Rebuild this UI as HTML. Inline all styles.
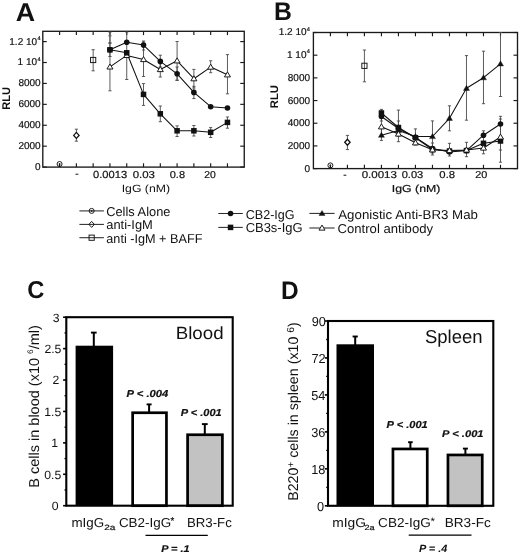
<!DOCTYPE html><html><head><meta charset="utf-8"><title>Figure</title><style>html,body{margin:0;padding:0;background:#fff;overflow:hidden;}svg{display:block;filter:blur(0.3px);text-rendering:geometricPrecision;font-family:"Liberation Sans", sans-serif;}text.s{stroke:#111;stroke-width:0.2px;paint-order:stroke;}</style></head><body>
<svg width="520" height="554" viewBox="0 0 520 554" fill="#111">
<rect width="520" height="554" fill="#fff"/>
<rect x="42.80" y="31.30" width="201.45" height="135.80" fill="none" stroke="#1a1a1a" stroke-width="1.35"/>
<line x1="59.59" y1="31.30" x2="59.59" y2="35.10" stroke="#1a1a1a" stroke-width="1.15"/>
<line x1="59.59" y1="167.10" x2="59.59" y2="163.30" stroke="#1a1a1a" stroke-width="1.15"/>
<line x1="76.38" y1="31.30" x2="76.38" y2="35.10" stroke="#1a1a1a" stroke-width="1.15"/>
<line x1="76.38" y1="167.10" x2="76.38" y2="163.30" stroke="#1a1a1a" stroke-width="1.15"/>
<line x1="93.16" y1="31.30" x2="93.16" y2="35.10" stroke="#1a1a1a" stroke-width="1.15"/>
<line x1="93.16" y1="167.10" x2="93.16" y2="163.30" stroke="#1a1a1a" stroke-width="1.15"/>
<line x1="109.95" y1="31.30" x2="109.95" y2="35.10" stroke="#1a1a1a" stroke-width="1.15"/>
<line x1="109.95" y1="167.10" x2="109.95" y2="163.30" stroke="#1a1a1a" stroke-width="1.15"/>
<line x1="126.74" y1="31.30" x2="126.74" y2="35.10" stroke="#1a1a1a" stroke-width="1.15"/>
<line x1="126.74" y1="167.10" x2="126.74" y2="163.30" stroke="#1a1a1a" stroke-width="1.15"/>
<line x1="143.52" y1="31.30" x2="143.52" y2="35.10" stroke="#1a1a1a" stroke-width="1.15"/>
<line x1="143.52" y1="167.10" x2="143.52" y2="163.30" stroke="#1a1a1a" stroke-width="1.15"/>
<line x1="160.31" y1="31.30" x2="160.31" y2="35.10" stroke="#1a1a1a" stroke-width="1.15"/>
<line x1="160.31" y1="167.10" x2="160.31" y2="163.30" stroke="#1a1a1a" stroke-width="1.15"/>
<line x1="177.10" y1="31.30" x2="177.10" y2="35.10" stroke="#1a1a1a" stroke-width="1.15"/>
<line x1="177.10" y1="167.10" x2="177.10" y2="163.30" stroke="#1a1a1a" stroke-width="1.15"/>
<line x1="193.89" y1="31.30" x2="193.89" y2="35.10" stroke="#1a1a1a" stroke-width="1.15"/>
<line x1="193.89" y1="167.10" x2="193.89" y2="163.30" stroke="#1a1a1a" stroke-width="1.15"/>
<line x1="210.67" y1="31.30" x2="210.67" y2="35.10" stroke="#1a1a1a" stroke-width="1.15"/>
<line x1="210.67" y1="167.10" x2="210.67" y2="163.30" stroke="#1a1a1a" stroke-width="1.15"/>
<line x1="227.46" y1="31.30" x2="227.46" y2="35.10" stroke="#1a1a1a" stroke-width="1.15"/>
<line x1="227.46" y1="167.10" x2="227.46" y2="163.30" stroke="#1a1a1a" stroke-width="1.15"/>
<line x1="42.80" y1="167.10" x2="46.80" y2="167.10" stroke="#1a1a1a" stroke-width="1.15"/>
<line x1="244.25" y1="167.10" x2="240.25" y2="167.10" stroke="#1a1a1a" stroke-width="1.15"/>
<line x1="42.80" y1="146.18" x2="46.80" y2="146.18" stroke="#1a1a1a" stroke-width="1.15"/>
<line x1="244.25" y1="146.18" x2="240.25" y2="146.18" stroke="#1a1a1a" stroke-width="1.15"/>
<line x1="42.80" y1="125.27" x2="46.80" y2="125.27" stroke="#1a1a1a" stroke-width="1.15"/>
<line x1="244.25" y1="125.27" x2="240.25" y2="125.27" stroke="#1a1a1a" stroke-width="1.15"/>
<line x1="42.80" y1="104.35" x2="46.80" y2="104.35" stroke="#1a1a1a" stroke-width="1.15"/>
<line x1="244.25" y1="104.35" x2="240.25" y2="104.35" stroke="#1a1a1a" stroke-width="1.15"/>
<line x1="42.80" y1="83.43" x2="46.80" y2="83.43" stroke="#1a1a1a" stroke-width="1.15"/>
<line x1="244.25" y1="83.43" x2="240.25" y2="83.43" stroke="#1a1a1a" stroke-width="1.15"/>
<line x1="42.80" y1="62.52" x2="46.80" y2="62.52" stroke="#1a1a1a" stroke-width="1.15"/>
<line x1="244.25" y1="62.52" x2="240.25" y2="62.52" stroke="#1a1a1a" stroke-width="1.15"/>
<line x1="42.80" y1="41.60" x2="46.80" y2="41.60" stroke="#1a1a1a" stroke-width="1.15"/>
<line x1="244.25" y1="41.60" x2="240.25" y2="41.60" stroke="#1a1a1a" stroke-width="1.15"/>
<line x1="76.38" y1="129.20" x2="76.38" y2="141.20" stroke="#4a4a4a" stroke-width="0.9"/>
<line x1="74.78" y1="129.20" x2="77.97" y2="129.20" stroke="#4a4a4a" stroke-width="0.9"/>
<line x1="74.78" y1="141.20" x2="77.97" y2="141.20" stroke="#4a4a4a" stroke-width="0.9"/>
<line x1="93.16" y1="49.70" x2="93.16" y2="70.80" stroke="#4a4a4a" stroke-width="0.9"/>
<line x1="91.56" y1="49.70" x2="94.76" y2="49.70" stroke="#4a4a4a" stroke-width="0.9"/>
<line x1="91.56" y1="70.80" x2="94.76" y2="70.80" stroke="#4a4a4a" stroke-width="0.9"/>
<line x1="109.95" y1="32.00" x2="109.95" y2="90.80" stroke="#4a4a4a" stroke-width="0.9"/>
<line x1="108.35" y1="32.00" x2="111.55" y2="32.00" stroke="#4a4a4a" stroke-width="0.9"/>
<line x1="108.35" y1="90.80" x2="111.55" y2="90.80" stroke="#4a4a4a" stroke-width="0.9"/>
<line x1="109.95" y1="35.80" x2="109.95" y2="43.00" stroke="#4a4a4a" stroke-width="0.9"/>
<line x1="108.35" y1="35.80" x2="111.55" y2="35.80" stroke="#4a4a4a" stroke-width="0.9"/>
<line x1="108.35" y1="43.00" x2="111.55" y2="43.00" stroke="#4a4a4a" stroke-width="0.9"/>
<line x1="109.95" y1="43.00" x2="109.95" y2="56.50" stroke="#4a4a4a" stroke-width="0.9"/>
<line x1="108.35" y1="43.00" x2="111.55" y2="43.00" stroke="#4a4a4a" stroke-width="0.9"/>
<line x1="108.35" y1="56.50" x2="111.55" y2="56.50" stroke="#4a4a4a" stroke-width="0.9"/>
<line x1="126.74" y1="32.00" x2="126.74" y2="79.50" stroke="#4a4a4a" stroke-width="0.9"/>
<line x1="125.14" y1="32.00" x2="128.34" y2="32.00" stroke="#4a4a4a" stroke-width="0.9"/>
<line x1="125.14" y1="79.50" x2="128.34" y2="79.50" stroke="#4a4a4a" stroke-width="0.9"/>
<line x1="143.52" y1="41.00" x2="143.52" y2="50.00" stroke="#4a4a4a" stroke-width="0.9"/>
<line x1="141.92" y1="41.00" x2="145.12" y2="41.00" stroke="#4a4a4a" stroke-width="0.9"/>
<line x1="141.92" y1="50.00" x2="145.12" y2="50.00" stroke="#4a4a4a" stroke-width="0.9"/>
<line x1="143.52" y1="42.00" x2="143.52" y2="76.50" stroke="#4a4a4a" stroke-width="0.9"/>
<line x1="141.92" y1="42.00" x2="145.12" y2="42.00" stroke="#4a4a4a" stroke-width="0.9"/>
<line x1="141.92" y1="76.50" x2="145.12" y2="76.50" stroke="#4a4a4a" stroke-width="0.9"/>
<line x1="143.52" y1="83.60" x2="143.52" y2="105.40" stroke="#4a4a4a" stroke-width="0.9"/>
<line x1="141.92" y1="83.60" x2="145.12" y2="83.60" stroke="#4a4a4a" stroke-width="0.9"/>
<line x1="141.92" y1="105.40" x2="145.12" y2="105.40" stroke="#4a4a4a" stroke-width="0.9"/>
<line x1="160.31" y1="55.20" x2="160.31" y2="67.00" stroke="#4a4a4a" stroke-width="0.9"/>
<line x1="158.71" y1="55.20" x2="161.91" y2="55.20" stroke="#4a4a4a" stroke-width="0.9"/>
<line x1="158.71" y1="67.00" x2="161.91" y2="67.00" stroke="#4a4a4a" stroke-width="0.9"/>
<line x1="160.31" y1="62.00" x2="160.31" y2="77.00" stroke="#4a4a4a" stroke-width="0.9"/>
<line x1="158.71" y1="62.00" x2="161.91" y2="62.00" stroke="#4a4a4a" stroke-width="0.9"/>
<line x1="158.71" y1="77.00" x2="161.91" y2="77.00" stroke="#4a4a4a" stroke-width="0.9"/>
<line x1="160.31" y1="106.00" x2="160.31" y2="121.70" stroke="#4a4a4a" stroke-width="0.9"/>
<line x1="158.71" y1="106.00" x2="161.91" y2="106.00" stroke="#4a4a4a" stroke-width="0.9"/>
<line x1="158.71" y1="121.70" x2="161.91" y2="121.70" stroke="#4a4a4a" stroke-width="0.9"/>
<line x1="177.10" y1="41.50" x2="177.10" y2="80.20" stroke="#4a4a4a" stroke-width="0.9"/>
<line x1="175.50" y1="41.50" x2="178.70" y2="41.50" stroke="#4a4a4a" stroke-width="0.9"/>
<line x1="175.50" y1="80.20" x2="178.70" y2="80.20" stroke="#4a4a4a" stroke-width="0.9"/>
<line x1="177.10" y1="67.00" x2="177.10" y2="80.40" stroke="#4a4a4a" stroke-width="0.9"/>
<line x1="175.50" y1="67.00" x2="178.70" y2="67.00" stroke="#4a4a4a" stroke-width="0.9"/>
<line x1="175.50" y1="80.40" x2="178.70" y2="80.40" stroke="#4a4a4a" stroke-width="0.9"/>
<line x1="177.10" y1="125.90" x2="177.10" y2="136.50" stroke="#4a4a4a" stroke-width="0.9"/>
<line x1="175.50" y1="125.90" x2="178.70" y2="125.90" stroke="#4a4a4a" stroke-width="0.9"/>
<line x1="175.50" y1="136.50" x2="178.70" y2="136.50" stroke="#4a4a4a" stroke-width="0.9"/>
<line x1="193.89" y1="69.40" x2="193.89" y2="88.00" stroke="#4a4a4a" stroke-width="0.9"/>
<line x1="192.29" y1="69.40" x2="195.49" y2="69.40" stroke="#4a4a4a" stroke-width="0.9"/>
<line x1="192.29" y1="88.00" x2="195.49" y2="88.00" stroke="#4a4a4a" stroke-width="0.9"/>
<line x1="193.89" y1="86.30" x2="193.89" y2="98.60" stroke="#4a4a4a" stroke-width="0.9"/>
<line x1="192.29" y1="86.30" x2="195.49" y2="86.30" stroke="#4a4a4a" stroke-width="0.9"/>
<line x1="192.29" y1="98.60" x2="195.49" y2="98.60" stroke="#4a4a4a" stroke-width="0.9"/>
<line x1="193.89" y1="125.50" x2="193.89" y2="136.00" stroke="#4a4a4a" stroke-width="0.9"/>
<line x1="192.29" y1="125.50" x2="195.49" y2="125.50" stroke="#4a4a4a" stroke-width="0.9"/>
<line x1="192.29" y1="136.00" x2="195.49" y2="136.00" stroke="#4a4a4a" stroke-width="0.9"/>
<line x1="210.67" y1="60.80" x2="210.67" y2="72.70" stroke="#4a4a4a" stroke-width="0.9"/>
<line x1="209.07" y1="60.80" x2="212.27" y2="60.80" stroke="#4a4a4a" stroke-width="0.9"/>
<line x1="209.07" y1="72.70" x2="212.27" y2="72.70" stroke="#4a4a4a" stroke-width="0.9"/>
<line x1="210.67" y1="127.60" x2="210.67" y2="137.50" stroke="#4a4a4a" stroke-width="0.9"/>
<line x1="209.07" y1="127.60" x2="212.27" y2="127.60" stroke="#4a4a4a" stroke-width="0.9"/>
<line x1="209.07" y1="137.50" x2="212.27" y2="137.50" stroke="#4a4a4a" stroke-width="0.9"/>
<line x1="227.46" y1="54.60" x2="227.46" y2="93.80" stroke="#4a4a4a" stroke-width="0.9"/>
<line x1="225.86" y1="54.60" x2="229.06" y2="54.60" stroke="#4a4a4a" stroke-width="0.9"/>
<line x1="225.86" y1="93.80" x2="229.06" y2="93.80" stroke="#4a4a4a" stroke-width="0.9"/>
<line x1="227.46" y1="117.00" x2="227.46" y2="128.20" stroke="#4a4a4a" stroke-width="0.9"/>
<line x1="225.86" y1="117.00" x2="229.06" y2="117.00" stroke="#4a4a4a" stroke-width="0.9"/>
<line x1="225.86" y1="128.20" x2="229.06" y2="128.20" stroke="#4a4a4a" stroke-width="0.9"/>
<polyline points="109.95,66.90 126.74,55.40 143.52,59.50 160.31,69.50 177.10,60.80 193.89,78.70 210.67,67.10 227.46,74.80" fill="none" stroke="#111" stroke-width="1.05" stroke-linejoin="round"/>
<polyline points="109.95,49.80 126.74,42.30 143.52,45.10 160.31,61.40 177.10,73.80 193.89,92.40 210.67,106.70 227.46,108.00" fill="none" stroke="#111" stroke-width="1.05" stroke-linejoin="round"/>
<polyline points="109.95,49.80 126.74,52.80 143.52,94.40 160.31,113.80 177.10,130.80 193.89,130.80 210.67,132.30 227.46,122.40" fill="none" stroke="#111" stroke-width="1.05" stroke-linejoin="round"/>
<polygon points="109.95,63.95 112.96,69.02 106.94,69.02" fill="#fff" stroke="#111" stroke-width="0.95"/>
<polygon points="126.74,52.45 129.75,57.52 123.73,57.52" fill="#fff" stroke="#111" stroke-width="0.95"/>
<polygon points="143.52,56.55 146.53,61.62 140.52,61.62" fill="#fff" stroke="#111" stroke-width="0.95"/>
<polygon points="160.31,66.55 163.32,71.62 157.30,71.62" fill="#fff" stroke="#111" stroke-width="0.95"/>
<polygon points="177.10,57.85 180.11,62.92 174.09,62.92" fill="#fff" stroke="#111" stroke-width="0.95"/>
<polygon points="193.89,75.75 196.90,80.82 190.88,80.82" fill="#fff" stroke="#111" stroke-width="0.95"/>
<polygon points="210.67,64.15 213.68,69.22 207.67,69.22" fill="#fff" stroke="#111" stroke-width="0.95"/>
<polygon points="227.46,71.85 230.47,76.92 224.45,76.92" fill="#fff" stroke="#111" stroke-width="0.95"/>
<circle cx="109.95" cy="49.80" r="2.80" fill="#111"/>
<circle cx="126.74" cy="42.30" r="2.80" fill="#111"/>
<circle cx="143.52" cy="45.10" r="2.80" fill="#111"/>
<circle cx="160.31" cy="61.40" r="2.80" fill="#111"/>
<circle cx="177.10" cy="73.80" r="2.80" fill="#111"/>
<circle cx="193.89" cy="92.40" r="2.80" fill="#111"/>
<circle cx="210.67" cy="106.70" r="2.80" fill="#111"/>
<circle cx="227.46" cy="108.00" r="2.80" fill="#111"/>
<rect x="107.20" y="47.05" width="5.50" height="5.50" fill="#111"/>
<rect x="123.99" y="50.05" width="5.50" height="5.50" fill="#111"/>
<rect x="140.77" y="91.65" width="5.50" height="5.50" fill="#111"/>
<rect x="157.56" y="111.05" width="5.50" height="5.50" fill="#111"/>
<rect x="174.35" y="128.05" width="5.50" height="5.50" fill="#111"/>
<rect x="191.14" y="128.05" width="5.50" height="5.50" fill="#111"/>
<rect x="207.92" y="129.55" width="5.50" height="5.50" fill="#111"/>
<rect x="224.71" y="119.65" width="5.50" height="5.50" fill="#111"/>
<circle cx="59.59" cy="164.00" r="2.50" fill="none" stroke="#111" stroke-width="0.95"/>
<circle cx="59.59" cy="164.00" r="0.85" fill="#111"/>
<polygon points="76.38,132.40 79.08,135.40 76.38,138.40 73.67,135.40" fill="#fff" stroke="#111" stroke-width="1.3"/>
<rect x="90.56" y="57.40" width="5.20" height="5.20" fill="none" stroke="#111" stroke-width="0.95"/>
<rect x="313.40" y="32.50" width="204.10" height="136.10" fill="none" stroke="#1a1a1a" stroke-width="1.35"/>
<line x1="330.41" y1="32.50" x2="330.41" y2="36.30" stroke="#1a1a1a" stroke-width="1.15"/>
<line x1="330.41" y1="168.60" x2="330.41" y2="164.80" stroke="#1a1a1a" stroke-width="1.15"/>
<line x1="347.42" y1="32.50" x2="347.42" y2="36.30" stroke="#1a1a1a" stroke-width="1.15"/>
<line x1="347.42" y1="168.60" x2="347.42" y2="164.80" stroke="#1a1a1a" stroke-width="1.15"/>
<line x1="364.42" y1="32.50" x2="364.42" y2="36.30" stroke="#1a1a1a" stroke-width="1.15"/>
<line x1="364.42" y1="168.60" x2="364.42" y2="164.80" stroke="#1a1a1a" stroke-width="1.15"/>
<line x1="381.43" y1="32.50" x2="381.43" y2="36.30" stroke="#1a1a1a" stroke-width="1.15"/>
<line x1="381.43" y1="168.60" x2="381.43" y2="164.80" stroke="#1a1a1a" stroke-width="1.15"/>
<line x1="398.44" y1="32.50" x2="398.44" y2="36.30" stroke="#1a1a1a" stroke-width="1.15"/>
<line x1="398.44" y1="168.60" x2="398.44" y2="164.80" stroke="#1a1a1a" stroke-width="1.15"/>
<line x1="415.45" y1="32.50" x2="415.45" y2="36.30" stroke="#1a1a1a" stroke-width="1.15"/>
<line x1="415.45" y1="168.60" x2="415.45" y2="164.80" stroke="#1a1a1a" stroke-width="1.15"/>
<line x1="432.46" y1="32.50" x2="432.46" y2="36.30" stroke="#1a1a1a" stroke-width="1.15"/>
<line x1="432.46" y1="168.60" x2="432.46" y2="164.80" stroke="#1a1a1a" stroke-width="1.15"/>
<line x1="449.47" y1="32.50" x2="449.47" y2="36.30" stroke="#1a1a1a" stroke-width="1.15"/>
<line x1="449.47" y1="168.60" x2="449.47" y2="164.80" stroke="#1a1a1a" stroke-width="1.15"/>
<line x1="466.48" y1="32.50" x2="466.48" y2="36.30" stroke="#1a1a1a" stroke-width="1.15"/>
<line x1="466.48" y1="168.60" x2="466.48" y2="164.80" stroke="#1a1a1a" stroke-width="1.15"/>
<line x1="483.48" y1="32.50" x2="483.48" y2="36.30" stroke="#1a1a1a" stroke-width="1.15"/>
<line x1="483.48" y1="168.60" x2="483.48" y2="164.80" stroke="#1a1a1a" stroke-width="1.15"/>
<line x1="500.49" y1="32.50" x2="500.49" y2="36.30" stroke="#1a1a1a" stroke-width="1.15"/>
<line x1="500.49" y1="168.60" x2="500.49" y2="164.80" stroke="#1a1a1a" stroke-width="1.15"/>
<line x1="313.40" y1="168.60" x2="317.40" y2="168.60" stroke="#1a1a1a" stroke-width="1.15"/>
<line x1="517.50" y1="168.60" x2="513.50" y2="168.60" stroke="#1a1a1a" stroke-width="1.15"/>
<line x1="313.40" y1="145.92" x2="317.40" y2="145.92" stroke="#1a1a1a" stroke-width="1.15"/>
<line x1="517.50" y1="145.92" x2="513.50" y2="145.92" stroke="#1a1a1a" stroke-width="1.15"/>
<line x1="313.40" y1="123.23" x2="317.40" y2="123.23" stroke="#1a1a1a" stroke-width="1.15"/>
<line x1="517.50" y1="123.23" x2="513.50" y2="123.23" stroke="#1a1a1a" stroke-width="1.15"/>
<line x1="313.40" y1="100.55" x2="317.40" y2="100.55" stroke="#1a1a1a" stroke-width="1.15"/>
<line x1="517.50" y1="100.55" x2="513.50" y2="100.55" stroke="#1a1a1a" stroke-width="1.15"/>
<line x1="313.40" y1="77.87" x2="317.40" y2="77.87" stroke="#1a1a1a" stroke-width="1.15"/>
<line x1="517.50" y1="77.87" x2="513.50" y2="77.87" stroke="#1a1a1a" stroke-width="1.15"/>
<line x1="313.40" y1="55.18" x2="317.40" y2="55.18" stroke="#1a1a1a" stroke-width="1.15"/>
<line x1="517.50" y1="55.18" x2="513.50" y2="55.18" stroke="#1a1a1a" stroke-width="1.15"/>
<line x1="313.40" y1="32.50" x2="317.40" y2="32.50" stroke="#1a1a1a" stroke-width="1.15"/>
<line x1="517.50" y1="32.50" x2="513.50" y2="32.50" stroke="#1a1a1a" stroke-width="1.15"/>
<line x1="347.42" y1="135.40" x2="347.42" y2="149.60" stroke="#4a4a4a" stroke-width="0.9"/>
<line x1="345.82" y1="135.40" x2="349.02" y2="135.40" stroke="#4a4a4a" stroke-width="0.9"/>
<line x1="345.82" y1="149.60" x2="349.02" y2="149.60" stroke="#4a4a4a" stroke-width="0.9"/>
<line x1="364.42" y1="50.00" x2="364.42" y2="81.80" stroke="#4a4a4a" stroke-width="0.9"/>
<line x1="362.82" y1="50.00" x2="366.02" y2="50.00" stroke="#4a4a4a" stroke-width="0.9"/>
<line x1="362.82" y1="81.80" x2="366.02" y2="81.80" stroke="#4a4a4a" stroke-width="0.9"/>
<line x1="381.43" y1="109.40" x2="381.43" y2="140.40" stroke="#4a4a4a" stroke-width="0.9"/>
<line x1="379.83" y1="109.40" x2="383.03" y2="109.40" stroke="#4a4a4a" stroke-width="0.9"/>
<line x1="379.83" y1="140.40" x2="383.03" y2="140.40" stroke="#4a4a4a" stroke-width="0.9"/>
<line x1="381.43" y1="113.00" x2="381.43" y2="121.00" stroke="#4a4a4a" stroke-width="0.9"/>
<line x1="379.83" y1="113.00" x2="383.03" y2="113.00" stroke="#4a4a4a" stroke-width="0.9"/>
<line x1="379.83" y1="121.00" x2="383.03" y2="121.00" stroke="#4a4a4a" stroke-width="0.9"/>
<line x1="381.43" y1="128.00" x2="381.43" y2="136.00" stroke="#4a4a4a" stroke-width="0.9"/>
<line x1="379.83" y1="128.00" x2="383.03" y2="128.00" stroke="#4a4a4a" stroke-width="0.9"/>
<line x1="379.83" y1="136.00" x2="383.03" y2="136.00" stroke="#4a4a4a" stroke-width="0.9"/>
<line x1="398.44" y1="110.10" x2="398.44" y2="141.70" stroke="#4a4a4a" stroke-width="0.9"/>
<line x1="396.84" y1="110.10" x2="400.04" y2="110.10" stroke="#4a4a4a" stroke-width="0.9"/>
<line x1="396.84" y1="141.70" x2="400.04" y2="141.70" stroke="#4a4a4a" stroke-width="0.9"/>
<line x1="398.44" y1="121.00" x2="398.44" y2="136.00" stroke="#4a4a4a" stroke-width="0.9"/>
<line x1="396.84" y1="121.00" x2="400.04" y2="121.00" stroke="#4a4a4a" stroke-width="0.9"/>
<line x1="396.84" y1="136.00" x2="400.04" y2="136.00" stroke="#4a4a4a" stroke-width="0.9"/>
<line x1="415.45" y1="128.90" x2="415.45" y2="145.00" stroke="#4a4a4a" stroke-width="0.9"/>
<line x1="413.85" y1="128.90" x2="417.05" y2="128.90" stroke="#4a4a4a" stroke-width="0.9"/>
<line x1="413.85" y1="145.00" x2="417.05" y2="145.00" stroke="#4a4a4a" stroke-width="0.9"/>
<line x1="432.46" y1="120.90" x2="432.46" y2="153.00" stroke="#4a4a4a" stroke-width="0.9"/>
<line x1="430.86" y1="120.90" x2="434.06" y2="120.90" stroke="#4a4a4a" stroke-width="0.9"/>
<line x1="430.86" y1="153.00" x2="434.06" y2="153.00" stroke="#4a4a4a" stroke-width="0.9"/>
<line x1="432.46" y1="143.00" x2="432.46" y2="155.00" stroke="#4a4a4a" stroke-width="0.9"/>
<line x1="430.86" y1="143.00" x2="434.06" y2="143.00" stroke="#4a4a4a" stroke-width="0.9"/>
<line x1="430.86" y1="155.00" x2="434.06" y2="155.00" stroke="#4a4a4a" stroke-width="0.9"/>
<line x1="449.47" y1="105.80" x2="449.47" y2="130.80" stroke="#4a4a4a" stroke-width="0.9"/>
<line x1="447.87" y1="105.80" x2="451.07" y2="105.80" stroke="#4a4a4a" stroke-width="0.9"/>
<line x1="447.87" y1="130.80" x2="451.07" y2="130.80" stroke="#4a4a4a" stroke-width="0.9"/>
<line x1="449.47" y1="143.30" x2="449.47" y2="156.00" stroke="#4a4a4a" stroke-width="0.9"/>
<line x1="447.87" y1="143.30" x2="451.07" y2="143.30" stroke="#4a4a4a" stroke-width="0.9"/>
<line x1="447.87" y1="156.00" x2="451.07" y2="156.00" stroke="#4a4a4a" stroke-width="0.9"/>
<line x1="466.48" y1="55.60" x2="466.48" y2="120.20" stroke="#4a4a4a" stroke-width="0.9"/>
<line x1="464.88" y1="55.60" x2="468.08" y2="55.60" stroke="#4a4a4a" stroke-width="0.9"/>
<line x1="464.88" y1="120.20" x2="468.08" y2="120.20" stroke="#4a4a4a" stroke-width="0.9"/>
<line x1="466.48" y1="142.30" x2="466.48" y2="156.70" stroke="#4a4a4a" stroke-width="0.9"/>
<line x1="464.88" y1="142.30" x2="468.08" y2="142.30" stroke="#4a4a4a" stroke-width="0.9"/>
<line x1="464.88" y1="156.70" x2="468.08" y2="156.70" stroke="#4a4a4a" stroke-width="0.9"/>
<line x1="483.48" y1="51.20" x2="483.48" y2="103.70" stroke="#4a4a4a" stroke-width="0.9"/>
<line x1="481.88" y1="51.20" x2="485.08" y2="51.20" stroke="#4a4a4a" stroke-width="0.9"/>
<line x1="481.88" y1="103.70" x2="485.08" y2="103.70" stroke="#4a4a4a" stroke-width="0.9"/>
<line x1="483.48" y1="130.80" x2="483.48" y2="153.80" stroke="#4a4a4a" stroke-width="0.9"/>
<line x1="481.88" y1="130.80" x2="485.08" y2="130.80" stroke="#4a4a4a" stroke-width="0.9"/>
<line x1="481.88" y1="153.80" x2="485.08" y2="153.80" stroke="#4a4a4a" stroke-width="0.9"/>
<line x1="500.49" y1="32.50" x2="500.49" y2="96.50" stroke="#4a4a4a" stroke-width="0.9"/>
<line x1="498.89" y1="32.50" x2="502.09" y2="32.50" stroke="#4a4a4a" stroke-width="0.9"/>
<line x1="498.89" y1="96.50" x2="502.09" y2="96.50" stroke="#4a4a4a" stroke-width="0.9"/>
<line x1="500.49" y1="116.30" x2="500.49" y2="162.20" stroke="#4a4a4a" stroke-width="0.9"/>
<line x1="498.89" y1="116.30" x2="502.09" y2="116.30" stroke="#4a4a4a" stroke-width="0.9"/>
<line x1="498.89" y1="162.20" x2="502.09" y2="162.20" stroke="#4a4a4a" stroke-width="0.9"/>
<line x1="500.49" y1="119.00" x2="500.49" y2="150.00" stroke="#4a4a4a" stroke-width="0.9"/>
<line x1="498.89" y1="119.00" x2="502.09" y2="119.00" stroke="#4a4a4a" stroke-width="0.9"/>
<line x1="498.89" y1="150.00" x2="502.09" y2="150.00" stroke="#4a4a4a" stroke-width="0.9"/>
<polyline points="381.43,135.20 398.44,130.50 415.45,136.50 432.46,136.50 449.47,118.30 466.48,88.30 483.48,77.70 500.49,63.80" fill="none" stroke="#111" stroke-width="1.05" stroke-linejoin="round"/>
<polyline points="381.43,116.50 398.44,128.50 415.45,137.50 432.46,148.50 449.47,152.00 466.48,150.60 483.48,135.20 500.49,124.00" fill="none" stroke="#111" stroke-width="1.05" stroke-linejoin="round"/>
<polyline points="381.43,113.00 398.44,127.50 415.45,137.70 432.46,149.50 449.47,151.00 466.48,150.60 483.48,143.30 500.49,141.00" fill="none" stroke="#111" stroke-width="1.05" stroke-linejoin="round"/>
<polyline points="381.43,126.80 398.44,134.00 415.45,142.80 432.46,149.80 449.47,150.50 466.48,150.00 483.48,148.00 500.49,137.00" fill="none" stroke="#111" stroke-width="1.05" stroke-linejoin="round"/>
<polygon points="381.43,132.25 384.44,137.32 378.42,137.32" fill="#111" stroke="#111" stroke-width="0.4"/>
<polygon points="398.44,127.55 401.45,132.62 395.43,132.62" fill="#111" stroke="#111" stroke-width="0.4"/>
<polygon points="415.45,133.55 418.46,138.62 412.44,138.62" fill="#111" stroke="#111" stroke-width="0.4"/>
<polygon points="432.46,133.55 435.47,138.62 429.45,138.62" fill="#111" stroke="#111" stroke-width="0.4"/>
<polygon points="449.47,115.35 452.48,120.42 446.46,120.42" fill="#111" stroke="#111" stroke-width="0.4"/>
<polygon points="466.48,85.35 469.48,90.42 463.47,90.42" fill="#111" stroke="#111" stroke-width="0.4"/>
<polygon points="483.48,74.75 486.49,79.82 480.47,79.82" fill="#111" stroke="#111" stroke-width="0.4"/>
<polygon points="500.49,60.85 503.50,65.92 497.48,65.92" fill="#111" stroke="#111" stroke-width="0.4"/>
<circle cx="381.43" cy="116.50" r="2.80" fill="#111"/>
<circle cx="398.44" cy="128.50" r="2.80" fill="#111"/>
<circle cx="415.45" cy="137.50" r="2.80" fill="#111"/>
<circle cx="432.46" cy="148.50" r="2.80" fill="#111"/>
<circle cx="449.47" cy="152.00" r="2.80" fill="#111"/>
<circle cx="466.48" cy="150.60" r="2.80" fill="#111"/>
<circle cx="483.48" cy="135.20" r="2.80" fill="#111"/>
<circle cx="500.49" cy="124.00" r="2.80" fill="#111"/>
<rect x="378.68" y="110.25" width="5.50" height="5.50" fill="#111"/>
<rect x="395.69" y="124.75" width="5.50" height="5.50" fill="#111"/>
<rect x="412.70" y="134.95" width="5.50" height="5.50" fill="#111"/>
<rect x="429.71" y="146.75" width="5.50" height="5.50" fill="#111"/>
<rect x="446.72" y="148.25" width="5.50" height="5.50" fill="#111"/>
<rect x="463.73" y="147.85" width="5.50" height="5.50" fill="#111"/>
<rect x="480.73" y="140.55" width="5.50" height="5.50" fill="#111"/>
<rect x="497.74" y="138.25" width="5.50" height="5.50" fill="#111"/>
<polygon points="381.43,123.85 384.44,128.92 378.42,128.92" fill="#fff" stroke="#111" stroke-width="0.95"/>
<polygon points="398.44,131.05 401.45,136.12 395.43,136.12" fill="#fff" stroke="#111" stroke-width="0.95"/>
<polygon points="415.45,139.85 418.46,144.92 412.44,144.92" fill="#fff" stroke="#111" stroke-width="0.95"/>
<polygon points="432.46,146.85 435.47,151.92 429.45,151.92" fill="#fff" stroke="#111" stroke-width="0.95"/>
<polygon points="449.47,147.55 452.48,152.62 446.46,152.62" fill="#fff" stroke="#111" stroke-width="0.95"/>
<polygon points="466.48,147.05 469.48,152.12 463.47,152.12" fill="#fff" stroke="#111" stroke-width="0.95"/>
<polygon points="483.48,145.05 486.49,150.12 480.47,150.12" fill="#fff" stroke="#111" stroke-width="0.95"/>
<polygon points="500.49,134.05 503.50,139.12 497.48,139.12" fill="#fff" stroke="#111" stroke-width="0.95"/>
<circle cx="330.41" cy="165.40" r="2.50" fill="none" stroke="#111" stroke-width="0.95"/>
<circle cx="330.41" cy="165.40" r="0.85" fill="#111"/>
<polygon points="347.42,139.30 350.12,142.30 347.42,145.30 344.72,142.30" fill="#fff" stroke="#111" stroke-width="1.3"/>
<rect x="361.82" y="63.20" width="5.20" height="5.20" fill="none" stroke="#111" stroke-width="0.95"/>
<line x1="79.40" y1="210.90" x2="103.90" y2="210.90" stroke="#2a2a2a" stroke-width="1.05"/>
<circle cx="91.65" cy="210.90" r="2.50" fill="none" stroke="#111" stroke-width="0.95"/>
<circle cx="91.65" cy="210.90" r="0.85" fill="#111"/>
<line x1="79.40" y1="224.40" x2="103.90" y2="224.40" stroke="#2a2a2a" stroke-width="1.05"/>
<polygon points="91.65,221.40 94.35,224.40 91.65,227.40 88.95,224.40" fill="none" stroke="#111" stroke-width="0.95"/>
<line x1="79.40" y1="237.70" x2="103.90" y2="237.70" stroke="#2a2a2a" stroke-width="1.05"/>
<rect x="89.05" y="235.10" width="5.20" height="5.20" fill="none" stroke="#111" stroke-width="0.95"/>
<line x1="218.30" y1="213.50" x2="242.80" y2="213.50" stroke="#2a2a2a" stroke-width="1.05"/>
<circle cx="230.55" cy="213.50" r="2.80" fill="#111"/>
<line x1="218.30" y1="227.40" x2="242.80" y2="227.40" stroke="#2a2a2a" stroke-width="1.05"/>
<rect x="227.80" y="224.65" width="5.50" height="5.50" fill="#111"/>
<line x1="309.40" y1="213.40" x2="334.60" y2="213.40" stroke="#2a2a2a" stroke-width="1.05"/>
<polygon points="322.00,210.45 325.01,215.52 318.99,215.52" fill="#111" stroke="#111" stroke-width="0.4"/>
<line x1="309.40" y1="228.00" x2="334.60" y2="228.00" stroke="#2a2a2a" stroke-width="1.05"/>
<polygon points="322.00,225.05 325.01,230.12 318.99,230.12" fill="#fff" stroke="#111" stroke-width="0.95"/>
<line x1="93.80" y1="346.70" x2="93.80" y2="332.60" stroke="#000" stroke-width="2.0"/>
<line x1="90.95" y1="332.60" x2="96.65" y2="332.60" stroke="#000" stroke-width="1.9"/>
<rect x="75.60" y="345.70" width="37.50" height="160.00" fill="#000"/>
<line x1="149.10" y1="412.40" x2="149.10" y2="404.40" stroke="#000" stroke-width="2.0"/>
<line x1="146.60" y1="404.40" x2="151.60" y2="404.40" stroke="#000" stroke-width="1.9"/>
<rect x="132.65" y="412.75" width="33.80" height="92.95" fill="#fff" stroke="#000" stroke-width="2.7"/>
<line x1="204.80" y1="434.40" x2="204.80" y2="424.10" stroke="#000" stroke-width="2.0"/>
<line x1="201.90" y1="424.10" x2="207.70" y2="424.10" stroke="#000" stroke-width="1.9"/>
<rect x="187.60" y="434.75" width="34.80" height="70.95" fill="#c2c2c2" stroke="#000" stroke-width="2.7"/>
<rect x="66.30" y="317.20" width="166.40" height="188.50" fill="none" stroke="#000" stroke-width="2.1"/>
<line x1="63.10" y1="505.70" x2="66.30" y2="505.70" stroke="#000" stroke-width="1.6"/>
<line x1="63.10" y1="474.28" x2="66.30" y2="474.28" stroke="#000" stroke-width="1.6"/>
<line x1="63.10" y1="442.87" x2="66.30" y2="442.87" stroke="#000" stroke-width="1.6"/>
<line x1="63.10" y1="411.45" x2="66.30" y2="411.45" stroke="#000" stroke-width="1.6"/>
<line x1="63.10" y1="380.03" x2="66.30" y2="380.03" stroke="#000" stroke-width="1.6"/>
<line x1="63.10" y1="348.62" x2="66.30" y2="348.62" stroke="#000" stroke-width="1.6"/>
<line x1="63.10" y1="317.20" x2="66.30" y2="317.20" stroke="#000" stroke-width="1.6"/>
<line x1="64.50" y1="489.99" x2="66.30" y2="489.99" stroke="#000" stroke-width="1.3"/>
<line x1="64.50" y1="458.57" x2="66.30" y2="458.57" stroke="#000" stroke-width="1.3"/>
<line x1="64.50" y1="427.16" x2="66.30" y2="427.16" stroke="#000" stroke-width="1.3"/>
<line x1="64.50" y1="395.74" x2="66.30" y2="395.74" stroke="#000" stroke-width="1.3"/>
<line x1="64.50" y1="364.32" x2="66.30" y2="364.32" stroke="#000" stroke-width="1.3"/>
<line x1="64.50" y1="332.91" x2="66.30" y2="332.91" stroke="#000" stroke-width="1.3"/>
<line x1="145.50" y1="535.30" x2="207.80" y2="535.30" stroke="#000" stroke-width="1.3"/>
<line x1="355.20" y1="345.30" x2="355.20" y2="336.50" stroke="#000" stroke-width="2.0"/>
<line x1="352.60" y1="336.50" x2="357.80" y2="336.50" stroke="#000" stroke-width="1.9"/>
<rect x="336.50" y="344.30" width="37.50" height="161.50" fill="#000"/>
<line x1="410.40" y1="448.60" x2="410.40" y2="442.20" stroke="#000" stroke-width="2.0"/>
<line x1="408.10" y1="442.20" x2="412.70" y2="442.20" stroke="#000" stroke-width="1.9"/>
<rect x="392.95" y="448.95" width="34.30" height="56.85" fill="#fff" stroke="#000" stroke-width="2.7"/>
<line x1="465.40" y1="454.60" x2="465.40" y2="448.60" stroke="#000" stroke-width="2.0"/>
<line x1="462.90" y1="448.60" x2="467.90" y2="448.60" stroke="#000" stroke-width="1.9"/>
<rect x="447.95" y="454.95" width="34.30" height="50.85" fill="#c2c2c2" stroke="#000" stroke-width="2.7"/>
<rect x="328.00" y="321.00" width="165.30" height="184.80" fill="none" stroke="#000" stroke-width="2.1"/>
<line x1="324.80" y1="505.80" x2="328.00" y2="505.80" stroke="#000" stroke-width="1.6"/>
<line x1="324.80" y1="468.84" x2="328.00" y2="468.84" stroke="#000" stroke-width="1.6"/>
<line x1="324.80" y1="431.88" x2="328.00" y2="431.88" stroke="#000" stroke-width="1.6"/>
<line x1="324.80" y1="394.92" x2="328.00" y2="394.92" stroke="#000" stroke-width="1.6"/>
<line x1="324.80" y1="357.96" x2="328.00" y2="357.96" stroke="#000" stroke-width="1.6"/>
<line x1="324.80" y1="321.00" x2="328.00" y2="321.00" stroke="#000" stroke-width="1.6"/>
<line x1="326.20" y1="487.32" x2="328.00" y2="487.32" stroke="#000" stroke-width="1.3"/>
<line x1="326.20" y1="450.36" x2="328.00" y2="450.36" stroke="#000" stroke-width="1.3"/>
<line x1="326.20" y1="413.40" x2="328.00" y2="413.40" stroke="#000" stroke-width="1.3"/>
<line x1="326.20" y1="376.44" x2="328.00" y2="376.44" stroke="#000" stroke-width="1.3"/>
<line x1="326.20" y1="339.48" x2="328.00" y2="339.48" stroke="#000" stroke-width="1.3"/>
<line x1="408.70" y1="535.10" x2="471.50" y2="535.10" stroke="#000" stroke-width="1.3"/>
<text transform="translate(15.85,20.75) scale(1.0455,1)" font-size="25.65" font-weight="bold">A</text>
<text transform="translate(274.12,19.65) scale(0.9705,1)" font-size="25.51" font-weight="bold">B</text>
<text transform="translate(27.30,298.10) scale(0.9668,1)" font-size="24.51" font-weight="bold">C</text>
<text transform="translate(281.04,298.85) scale(0.9631,1)" font-size="25.36" font-weight="bold">D</text>
<text transform="translate(35.00,170.05) scale(1.0000,1)" font-size="10.00" class="s">0</text>
<text transform="translate(18.40,149.13) scale(1.0000,1)" font-size="10.00" class="s">2000</text>
<text transform="translate(18.40,128.22) scale(1.0000,1)" font-size="10.00" class="s">4000</text>
<text transform="translate(18.40,107.30) scale(1.0000,1)" font-size="10.00" class="s">6000</text>
<text transform="translate(18.40,86.38) scale(1.0000,1)" font-size="10.00" class="s">8000</text>
<text transform="translate(17.60,65.47) scale(1.0000,1)" font-size="10.00" class="s">1 10</text>
<text transform="translate(37.43,60.75) scale(1.0000,1)" font-size="5.60" class="s">4</text>
<text transform="translate(9.30,44.55) scale(1.0000,1)" font-size="10.00" class="s">1.2 10</text>
<text transform="translate(37.43,39.83) scale(1.0000,1)" font-size="5.60" class="s">4</text>
<text transform="translate(9.89,109.78) rotate(-90) scale(0.9893,1)" font-size="11.21" font-weight="bold">RLU</text>
<text transform="translate(93.05,177.60) scale(1.0839,1)" font-size="10.28" class="s">0.0013</text>
<text transform="translate(132.64,177.80) scale(1.1452,1)" font-size="10.00" class="s">0.03</text>
<text transform="translate(169.76,177.80) scale(1.0992,1)" font-size="10.00" class="s">0.8</text>
<text transform="translate(204.28,177.80) scale(1.0392,1)" font-size="10.00" class="s">20</text>
<text transform="translate(75.25,177.25) scale(1.0000,1)" font-size="10.00" class="s">-</text>
<text transform="translate(121.70,191.89) scale(1.1618,1)" font-size="10.54">IgG (nM)</text>
<text transform="translate(304.40,171.55) scale(1.0000,1)" font-size="10.00" class="s">0</text>
<text transform="translate(287.80,148.87) scale(1.0000,1)" font-size="10.00" class="s">2000</text>
<text transform="translate(287.80,126.18) scale(1.0000,1)" font-size="10.00" class="s">4000</text>
<text transform="translate(287.80,103.50) scale(1.0000,1)" font-size="10.00" class="s">6000</text>
<text transform="translate(287.80,80.82) scale(1.0000,1)" font-size="10.00" class="s">8000</text>
<text transform="translate(287.00,58.13) scale(1.0000,1)" font-size="10.00" class="s">1 10</text>
<text transform="translate(306.83,53.42) scale(1.0000,1)" font-size="5.60" class="s">4</text>
<text transform="translate(278.70,35.45) scale(1.0000,1)" font-size="10.00" class="s">1.2 10</text>
<text transform="translate(306.83,30.73) scale(1.0000,1)" font-size="5.60" class="s">4</text>
<text transform="translate(277.59,108.18) rotate(-90) scale(1.0049,1)" font-size="11.14" font-weight="bold">RLU</text>
<text transform="translate(361.64,178.40) scale(1.1515,1)" font-size="10.00" class="s">0.0013</text>
<text transform="translate(401.66,178.40) scale(1.1075,1)" font-size="10.00" class="s">0.03</text>
<text transform="translate(439.35,178.40) scale(1.1298,1)" font-size="10.00" class="s">0.8</text>
<text transform="translate(475.26,178.40) scale(1.0882,1)" font-size="10.00" class="s">20</text>
<text transform="translate(343.35,177.95) scale(1.0000,1)" font-size="10.00" class="s">-</text>
<text transform="translate(391.79,192.28) scale(1.2191,1)" font-size="10.11" class="s">IgG (nM)</text>
<text transform="translate(106.16,215.70) scale(0.9963,1)" font-size="12.90">Cells Alone</text>
<text transform="translate(106.28,229.20) scale(0.9996,1)" font-size="12.90">anti-IgM</text>
<text transform="translate(106.29,242.50) scale(0.9828,1)" font-size="12.90">anti -IgM + BAFF</text>
<text transform="translate(245.67,218.90) scale(0.9768,1)" font-size="12.90">CB2-IgG</text>
<text transform="translate(245.65,232.30) scale(0.9947,1)" font-size="13.04">CB3s-IgG</text>
<text transform="translate(338.20,218.70) scale(1.0325,1)" font-size="12.90">Agonistic Anti-BR3 Mab</text>
<text transform="translate(337.54,232.50) scale(1.0176,1)" font-size="12.90">Control antibody</text>
<text transform="translate(51.84,510.04) scale(1.0200,1)" font-size="12.00">0</text>
<text transform="translate(44.18,478.62) scale(1.0200,1)" font-size="12.00">0.5</text>
<text transform="translate(51.16,447.21) scale(1.0200,1)" font-size="12.00">1</text>
<text transform="translate(44.18,415.73) scale(1.0200,1)" font-size="12.00">1.5</text>
<text transform="translate(52.56,384.43) scale(1.0200,1)" font-size="12.00">2</text>
<text transform="translate(44.38,352.96) scale(1.0200,1)" font-size="12.00">2.5</text>
<text transform="translate(52.66,321.54) scale(1.0200,1)" font-size="12.00">3</text>
<text transform="translate(39.20,487.76) rotate(-90) scale(1.0114,1)" font-size="14.35">B cells in blood (x10 <tspan font-size="0.56em" dy="-0.8em">6</tspan><tspan dy="0.448em">/ml)</tspan></text>
<text transform="translate(175.70,338.62) scale(1.0613,1)" font-size="17.67">Blood</text>
<text transform="translate(126.58,397.40) scale(1.1017,1)" font-size="10.21" class="s" font-weight="bold" font-style="italic">P &lt; .004</text>
<text transform="translate(180.78,415.80) scale(1.0891,1)" font-size="10.14" class="s" font-weight="bold" font-style="italic">P &lt; .001</text>
<text transform="translate(71.46,526.80) scale(1.0267,1)" font-size="13.04">mIgG</text>
<text transform="translate(104.20,530.42) scale(1.2909,1)" font-size="7.75" class="s">2a</text>
<text transform="translate(118.93,526.80) scale(1.0290,1)" font-size="13.04">CB2-IgG</text>
<text transform="translate(170.61,524.10) scale(0.9714,1)" font-size="10.00" class="s">*</text>
<text transform="translate(186.94,526.80) scale(1.0144,1)" font-size="13.04">BR3-Fc</text>
<text transform="translate(161.18,551.80) scale(1.1110,1)" font-size="9.86" class="s" font-weight="bold" font-style="italic">P = .1</text>
<text transform="translate(316.98,511.09) scale(0.9800,1)" font-size="13.00">0</text>
<text transform="translate(311.17,474.13) scale(0.9800,1)" font-size="13.00">18</text>
<text transform="translate(311.17,437.17) scale(0.9800,1)" font-size="13.00">36</text>
<text transform="translate(311.14,400.14) scale(0.9800,1)" font-size="13.00">54</text>
<text transform="translate(311.40,363.31) scale(0.9800,1)" font-size="13.00">72</text>
<text transform="translate(311.67,326.29) scale(0.9800,1)" font-size="13.00">90</text>
<text transform="translate(298.30,500.84) rotate(-90) scale(1.0047,1)" font-size="14.20">B220<tspan font-size="0.69em" dy="-0.4em">+</tspan><tspan dy="0.276em"> cells in spleen (x10 </tspan><tspan font-size="0.72em" dy="-0.4em">6</tspan><tspan dy="0.29em">)</tspan></text>
<text transform="translate(424.97,342.59) scale(0.9945,1)" font-size="18.60">Spleen</text>
<text transform="translate(386.58,427.60) scale(1.0945,1)" font-size="10.14" class="s" font-weight="bold" font-style="italic">P &lt; .001</text>
<text transform="translate(442.08,437.40) scale(1.1341,1)" font-size="9.86" class="s" font-weight="bold" font-style="italic">P &lt; .001</text>
<text transform="translate(332.13,526.80) scale(1.0600,1)" font-size="13.04">mIgG</text>
<text transform="translate(364.54,530.23) scale(1.2259,1)" font-size="7.46" class="s">2a</text>
<text transform="translate(378.12,526.80) scale(1.0412,1)" font-size="13.04">CB2-IgG</text>
<text transform="translate(430.47,524.69) scale(1.0526,1)" font-size="10.86">*</text>
<text transform="translate(444.71,526.80) scale(1.0425,1)" font-size="13.04">BR3-Fc</text>
<text transform="translate(418.98,551.90) scale(1.0301,1)" font-size="10.58" font-weight="bold" font-style="italic">P = .4</text>
</svg></body></html>
